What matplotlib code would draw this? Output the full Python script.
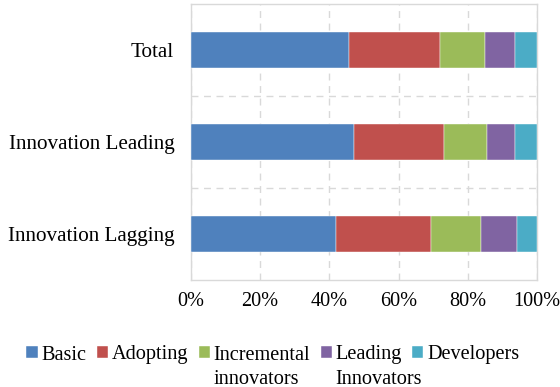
import numpy as np
import matplotlib.pyplot as plt

plt.rcParams['font.family'] = ['Liberation Serif', 'DejaVu Serif']
plt.rcParams['font.size'] = 15.2

# Share of firms in each technology group (percent), bottom to top
groups = ['Innovation Lagging', 'Innovation Leading', 'Total']
basic = [42.0, 47.0, 45.7]
adopting = [27.4, 26.1, 26.3]
incremental = [14.4, 12.3, 12.9]
leading = [10.3, 8.1, 8.8]
developers = [5.9, 6.5, 6.3]

series = [basic, adopting, incremental, leading, developers]
first_lines = ['Basic', 'Adopting', 'Incremental', 'Leading', 'Developers']
second_lines = ['', '', 'innovators', 'Innovators', '']
colors = ['#4F81BD', '#C0504D', '#9BBB59', '#8064A2', '#4BACC6']

fig = plt.figure(figsize=(5.6, 3.87), dpi=100)
ax = fig.add_axes([0.341, 0.2765, 0.618, 0.7132])

y = np.arange(len(groups))
left = np.zeros(len(groups))
handles = []
for vals, col, name in zip(series, colors, first_lines):
    vals = np.array(vals)
    b = ax.barh(y, vals, left=left, height=0.4, color=col,
                edgecolor='white', linewidth=0.3, label=name, zorder=3)
    handles.append(b)
    left += vals

ax.set_xlim(0, 100)
ax.set_ylim(-0.5, len(groups) - 0.5)
ax.set_xticks(np.arange(0, 101, 20))
ax.set_xticklabels([f'{v}%' for v in range(0, 101, 20)], fontsize=14.6)
ax.set_yticks(y)
ax.set_yticklabels(groups)
ax.set_yticks(np.arange(0.5, len(groups) - 0.5, 1), minor=True)
ax.tick_params(axis='both', which='both', length=0)
ax.tick_params(axis='x', pad=9)
ax.tick_params(axis='y', pad=12)

grid_style = dict(color='#d9d9d9', linewidth=1.0, linestyle=(0, (5, 4)))
ax.grid(axis='x', which='major', **grid_style, zorder=0)
ax.grid(axis='y', which='minor', **grid_style, zorder=0)
for sp in ax.spines.values():
    sp.set_color('#d9d9d9')
    sp.set_linewidth(1.0)

leg_size = 14.6
leg = fig.legend(handles=handles, labels=first_lines, loc='center',
                 bbox_to_anchor=(0.4875, 1 - 355 / 387), ncol=5, frameon=False,
                 fontsize=leg_size, handlelength=0.55, handleheight=0.55,
                 handletextpad=0.2, columnspacing=0.5, borderpad=0)

# second line of the wrapped legend labels, placed under the first line
fig.canvas.draw()
inv = fig.transFigure.inverted()
for txt, extra in zip(leg.get_texts(), second_lines):
    if extra:
        bb = txt.get_window_extent()
        x0, y0 = inv.transform((bb.x0, bb.y0 - 24))
        fig.text(x0, y0, extra, ha='left', va='bottom', fontsize=leg_size)

fig.savefig('out.png', dpi=100)
